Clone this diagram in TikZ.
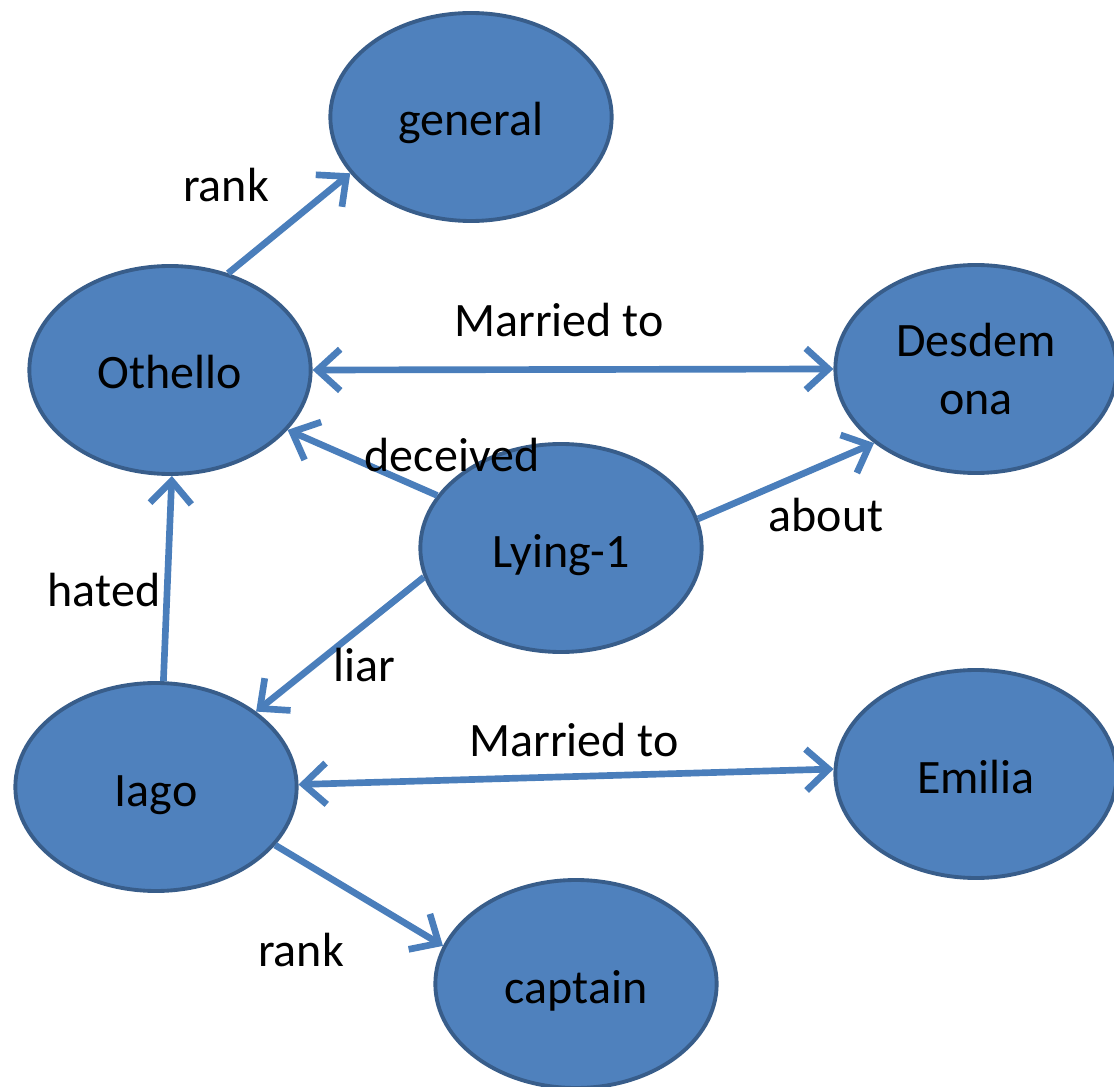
\documentclass[tikz,border=0pt]{standalone}
\usepackage{fontspec}
\setmainfont{Carlito}
\usetikzlibrary{shapes.geometric,arrows.meta}
\definecolor{nodefill}{HTML}{4F81BD}
\definecolor{nodeborder}{HTML}{385D8A}
\definecolor{edgecol}{HTML}{4A7EBB}
\begin{document}
\begin{tikzpicture}[x=0.75pt,y=-0.75pt,
  concept/.style={ellipse,draw=nodeborder,fill=nodefill,line width=2.9pt,
     minimum width=211pt,minimum height=156pt,inner sep=0pt,align=center,
     font=\fontsize{36}{43.5}\selectfont},
  oneline/.style={text height=28.5pt,text depth=0pt},
  rel/.style={draw=edgecol,line width=5pt,-{Straight Barb[length=17pt,width=31pt,line width=5pt]}},
  birel/.style={draw=edgecol,line width=5pt,
     {Straight Barb[length=17pt,width=31pt,line width=5pt]}-{Straight Barb[length=17pt,width=31pt,line width=5pt]}},
  lbl/.style={inner sep=0pt,font=\fontsize{36}{43.5}\selectfont}]
\useasboundingbox (0,0) rectangle (1114,1087);
\node[concept,oneline] (general) at (471,117) {general};
\node[concept,oneline] (othello) at (170,370) {Othello};
\node[concept] (desd) at (976,369) {Desdem\\ona};
\node[concept,oneline] (lying) at (561,548) {Lying-1};
\node[concept,oneline] (iago) at (156,787) {Iago};
\node[concept,oneline] (emilia) at (976,774) {Emilia};
\node[concept,oneline] (captain) at (576,984) {captain};

\draw[rel] (othello.59) -- (general.205);
\draw[birel] (othello.east) -- (desd.west);
\draw[rel] (lying.157) -- (othello.-27);
\draw[rel] (lying.12) -- (desd.216);
\draw[rel] (lying.192) -- (iago.37);
\draw[rel] (iago.86) -- (othello.271);
\draw[birel] (iago.1) -- (emilia.178);
\draw[rel] (iago.-26) -- (captain.164);

\node[lbl] (l1) at (226,185) {rank};
\node[lbl] (l2) at (559,320) {Married to};
\node[lbl] (l3) at (452,455) {deceived};
\node[lbl] (l4) at (826,515) {about};
\node[lbl] (l5) at (364,665) {liar};
\node[lbl] (l6) at (104,590) {hated};
\node[lbl] (l7) at (574,740) {Married to};
\node[lbl] (l8) at (301,950) {rank};
\end{tikzpicture}
\end{document}
